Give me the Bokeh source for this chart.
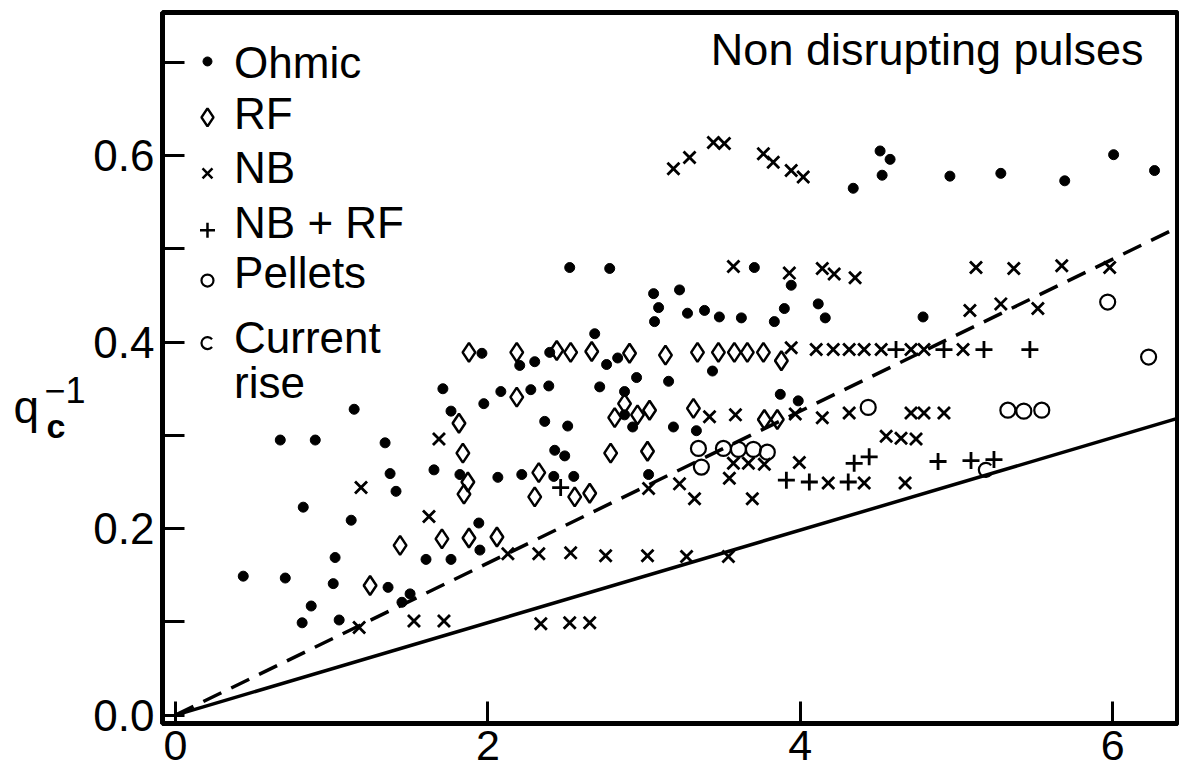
from bokeh.plotting import figure
from bokeh.models import FixedTicker, Range1d
from bokeh.layouts import row
from bokeh.core.properties import value
from bokeh.embed import file_html
from bokeh.resources import INLINE

FONT = "Liberation Sans"

# ---------------- data ----------------
ohmic_x = [0.434, 0.703, 0.811, 0.869, 1.010, 1.048, 1.022, 1.125, 0.818, 0.671,
           0.895, 1.144, 1.342, 1.374, 1.412, 1.361, 1.450, 1.502, 1.655, 1.821,
           2.064, 2.217, 2.422, 2.550, 1.942, 1.604, 1.764, 1.949, 2.684, 1.962,
           2.204, 2.300, 2.396, 2.760, 1.712, 2.083, 2.275, 2.390, 1.974, 2.716,
           1.764, 2.364, 2.511, 2.428, 2.492, 3.061, 3.227, 3.093, 3.067, 3.278,
           3.387, 3.482, 3.623, 3.834, 3.898, 4.115, 2.831, 2.952, 3.157, 3.438,
           2.875, 2.875, 2.927, 3.188, 3.335, 3.872, 3.987, 3.029, 2.524, 2.780,
           3.706, 3.942, 4.160, 4.786, 4.511, 4.575, 4.524, 4.339, 4.958, 5.284,
           5.693, 6.006, 6.268]
ohmic_y = [0.149, 0.147, 0.099, 0.117, 0.141, 0.102, 0.169, 0.209, 0.223, 0.295,
           0.295, 0.328, 0.292, 0.259, 0.240, 0.137, 0.121, 0.130, 0.263, 0.258,
           0.255, 0.258, 0.256, 0.256, 0.206, 0.167, 0.167, 0.177, 0.409, 0.388,
           0.375, 0.379, 0.389, 0.376, 0.350, 0.347, 0.349, 0.353, 0.334, 0.352,
           0.326, 0.315, 0.310, 0.284, 0.278, 0.452, 0.456, 0.437, 0.422, 0.431,
           0.434, 0.427, 0.426, 0.422, 0.436, 0.441, 0.383, 0.362, 0.358, 0.369,
           0.347, 0.322, 0.309, 0.309, 0.305, 0.344, 0.337, 0.258, 0.480, 0.479,
           0.480, 0.461, 0.426, 0.427, 0.605, 0.596, 0.579, 0.565, 0.578, 0.581,
           0.573, 0.601, 0.584]

rf_x = [1.879, 2.185, 2.441, 2.530, 2.665, 2.907, 3.137, 3.342, 3.476, 3.578,
        3.661, 3.764, 3.879, 2.185, 1.815, 2.875, 2.812, 2.958, 3.035, 3.316,
        1.840, 2.786, 3.022, 2.326, 1.872, 1.847, 2.556, 2.652, 2.300, 1.438,
        1.706, 1.879, 2.058, 1.246, 3.770, 3.853]
rf_y = [0.389, 0.389, 0.391, 0.389, 0.390, 0.388, 0.386, 0.389, 0.389, 0.389,
        0.389, 0.389, 0.380, 0.341, 0.313, 0.334, 0.319, 0.322, 0.327, 0.329,
        0.281, 0.281, 0.283, 0.260, 0.250, 0.237, 0.234, 0.238, 0.234, 0.182,
        0.189, 0.190, 0.191, 0.139, 0.317, 0.317]

nb_x = [1.176, 1.527, 1.719, 2.339, 2.524, 2.652, 1.188, 1.623, 1.687, 2.128,
        2.326, 2.530, 2.754, 3.022, 3.272, 3.540, 3.029, 3.227, 3.323, 3.546,
        3.693, 4.179, 4.409, 4.671, 3.572, 3.668, 3.770, 3.994, 4.550, 4.645,
        4.741, 3.419, 3.585, 3.968, 4.141, 4.313, 4.709, 4.792, 4.920, 3.942,
        4.102, 4.211, 4.313, 4.409, 4.518, 4.709, 4.792, 5.042, 5.086, 5.284,
        5.521, 3.572, 3.930, 4.141, 4.217, 4.351, 5.125, 5.367, 5.674, 5.981,
        3.188, 3.291, 3.444, 3.514, 3.764, 3.827, 3.942, 4.019]
nb_y = [0.094, 0.101, 0.101, 0.098, 0.099, 0.099, 0.244, 0.213, 0.296, 0.173,
        0.173, 0.174, 0.171, 0.171, 0.170, 0.170, 0.243, 0.248, 0.232, 0.254,
        0.232, 0.249, 0.249, 0.249, 0.270, 0.270, 0.269, 0.271, 0.299, 0.297,
        0.296, 0.320, 0.322, 0.323, 0.319, 0.324, 0.324, 0.324, 0.324, 0.394,
        0.392, 0.392, 0.392, 0.392, 0.392, 0.392, 0.392, 0.392, 0.434, 0.441,
        0.436, 0.481, 0.474, 0.479, 0.473, 0.469, 0.480, 0.479, 0.482, 0.480,
        0.586, 0.598, 0.614, 0.613, 0.602, 0.593, 0.584, 0.577]

nbrf_x = [2.466, 3.911, 4.058, 4.307, 4.345, 4.441, 4.882, 5.093, 5.240,
          4.613, 4.920, 5.176, 5.470]
nbrf_y = [0.244, 0.252, 0.250, 0.250, 0.270, 0.277, 0.272, 0.273, 0.274,
          0.392, 0.392, 0.392, 0.392]

pellet_x = [4.435, 5.329, 5.431, 5.546, 5.968, 6.230, 3.348, 3.508, 3.604,
            3.700, 3.789, 3.367]
pellet_y = [0.330, 0.327, 0.326, 0.327, 0.443, 0.384, 0.286, 0.286, 0.285,
            0.285, 0.282, 0.266]

current_x = [5.188]
current_y = [0.263]

# reference lines through the origin
line_x = [0.0, 6.42]
dashed_slope = 0.0815
solid_slope = 0.0496

x_ticks = [0, 2, 4, 6]
y_ticks = [0.0, 0.2, 0.4, 0.6]
y_minor = [0.1, 0.3, 0.5, 0.7]

legend_labels = ["Ohmic", "RF", "NB", "NB + RF", "Pellets", "Current", "rise"]
title_text = "Non disrupting pulses"
ylabel_parts = ["q", "c", "\u22121"]

# ---------------- y-axis label panel ----------------
lab = figure(width=90, height=779, output_backend="svg", toolbar_location=None,
             x_range=Range1d(0, 90), y_range=Range1d(0, 779),
             min_border=0, min_border_left=0, min_border_right=0,
             min_border_top=0, min_border_bottom=0)
lab.axis.visible = False
lab.grid.visible = False
lab.outline_line_color = None
lab.background_fill_color = "white"
lab.border_fill_color = "white"
lab.text([13], [347], text=[ylabel_parts[0]], text_font=value(FONT),
         text_font_size="46px", text_color="black", text_baseline="alphabetic")
lab.text([46], [326], text=[ylabel_parts[1]], text_font=value(FONT),
         text_font_size="34px", text_font_style="bold", text_color="black",
         text_baseline="alphabetic")
lab.text([44], [365], text=[ylabel_parts[2]], text_font=value(FONT),
         text_font_size="36px", text_color="black", text_baseline="alphabetic")

# ---------------- main figure ----------------
p = figure(width=1089, height=779, output_backend="svg", toolbar_location=None,
           x_range=Range1d(-0.083, 6.415), y_range=Range1d(-0.009, 0.7535),
           min_border_left=70, min_border_right=2, min_border_top=12,
           min_border_bottom=56)
p.background_fill_color = "white"
p.border_fill_color = "white"
p.xgrid.visible = False
p.ygrid.visible = False
p.outline_line_color = "black"
p.outline_line_width = 5
p.outline_line_alpha = 1.0

for ax in (p.xaxis[0], p.yaxis[0]):
    ax.axis_line_width = 5
    ax.axis_line_color = "black"
    ax.major_tick_in = 22
    ax.major_tick_out = 0
    ax.major_tick_line_width = 3
    ax.major_tick_line_color = "black"
    ax.minor_tick_in = 22
    ax.minor_tick_out = 0
    ax.minor_tick_line_width = 3
    ax.minor_tick_line_color = "black"
    ax.major_label_text_font = FONT
    ax.major_label_text_color = "black"

p.yaxis.major_label_text_font_size = "44px"
p.xaxis.major_label_text_font_size = "43px"
p.xaxis.ticker = FixedTicker(ticks=x_ticks, minor_ticks=[])
p.yaxis.ticker = FixedTicker(ticks=y_ticks, minor_ticks=y_minor)
p.yaxis.major_label_overrides = {0: "0.0"}
p.xaxis.major_label_standoff = 7
p.yaxis.major_label_standoff = 8

# lines
p.line(line_x, [dashed_slope * v for v in line_x], line_color="black",
       line_width=3.5, line_dash="20 11")
p.line(line_x, [solid_slope * v for v in line_x], line_color="black",
       line_width=3.5)

# markers
p.scatter(ohmic_x, ohmic_y, marker="circle", size=10, fill_color="black",
          line_color="black")
p.scatter(rf_x, rf_y, marker="diamond", size=19, fill_color=None,
          line_color="black", line_width=2.5)
p.scatter(nb_x, nb_y, marker="x", size=17, line_color="black", line_width=2.8)
p.scatter(nbrf_x, nbrf_y, marker="cross", size=17, line_color="black",
          line_width=2.8)
p.scatter(pellet_x, pellet_y, marker="circle", size=15, fill_color=None,
          line_color="black", line_width=2.2)
p.arc(current_x, current_y, radius=7, radius_units="screen", start_angle=0.7,
      end_angle=-0.7, line_color="black", line_width=2.2)

# legend (drawn inside the frame as in the original)
lx_m = 0.205
lx_t = 0.375
p.scatter([lx_m], [0.701], marker="circle", size=9, fill_color="black",
          line_color="black")
p.scatter([lx_m], [0.641], marker="diamond", size=18, fill_color=None,
          line_color="black", line_width=2.5)
p.scatter([lx_m], [0.581], marker="x", size=14, line_color="black",
          line_width=2.5)
p.scatter([lx_m], [0.520], marker="cross", size=15, line_color="black",
          line_width=2.5)
p.scatter([lx_m], [0.466], marker="circle", size=12, fill_color=None,
          line_color="black", line_width=2.2)
p.arc([lx_m], [0.399], radius=6, radius_units="screen", start_angle=0.7,
      end_angle=-0.7, line_color="black", line_width=2.2)

p.text([lx_t] * 7, [0.700, 0.645, 0.587, 0.528, 0.475, 0.405, 0.357],
       text=legend_labels, text_font=value(FONT), text_font_size="44px",
       text_color="black", text_baseline="alphabetic", text_align="left")

p.text([6.198], [0.714], text=[title_text], text_font=value(FONT),
       text_font_size="45px", text_color="black", text_baseline="alphabetic",
       text_align="right")

layout = row(lab, p, spacing=0)
open("out.html", "w").write(file_html(layout, INLINE))
